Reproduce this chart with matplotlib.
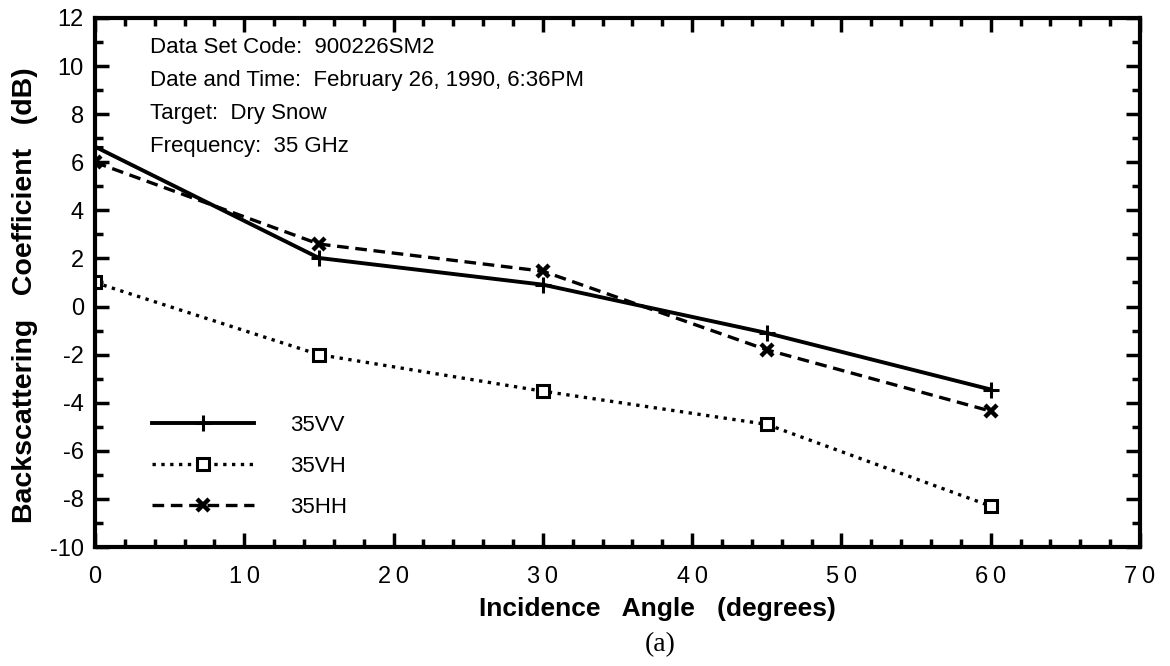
import numpy as np
import matplotlib.pyplot as plt
from matplotlib.ticker import MultipleLocator, FuncFormatter

# data
angle = [0, 15, 30, 45, 60]
vv = [6.65, 2.02, 0.91, -1.1, -3.45]
vh = [1.0, -2.0, -3.52, -4.9, -8.3]
hh = [6.0, 2.6, 1.47, -1.8, -4.35]

info = ['Data Set Code:  900226SM2',
        'Date and Time:  February 26, 1990, 6:36PM',
        'Target:  Dry Snow',
        'Frequency:  35 GHz']

plt.rcParams['font.family'] = ['Liberation Sans', 'DejaVu Sans']

fig = plt.figure(figsize=(11.7, 6.66), dpi=100)
ax = fig.add_axes([95 / 1170, 1 - 547 / 666, 1045 / 1170, 529 / 666])

ax.plot(angle, vv, '-', color='black', lw=2.8, marker='+', ms=12, mew=2.2, label='35VV')
ax.plot(angle, vh, ':', color='black', lw=2.4, marker='s', ms=9, mew=2.2,
        mfc='white', label='35VH')
ax.plot(angle, hh, '--', color='black', lw=2.4, marker='x', ms=8, mew=3.2,
        dashes=(3.5, 2), label='35HH')

ax.set_xlim(0, 70)
ax.set_ylim(-10, 12)
ax.xaxis.set_major_locator(MultipleLocator(10))
ax.xaxis.set_minor_locator(MultipleLocator(2))
ax.yaxis.set_major_locator(MultipleLocator(2))
ax.yaxis.set_minor_locator(MultipleLocator(1))
ax.xaxis.set_major_formatter(FuncFormatter(lambda v, p: '\u2009'.join(str(int(v)))))
ax.yaxis.set_major_formatter(FuncFormatter(lambda v, p: str(int(v))))

ax.tick_params(which='both', direction='in', top=True, right=True, width=2.5)
ax.tick_params(axis='y', which='major', length=10, labelsize=17, pad=8)
ax.tick_params(axis='x', which='major', length=10, labelsize=17, pad=14)
ax.tick_params(which='minor', length=6)
for s in ax.spines.values():
    s.set_linewidth(3)

ax.set_xlabel('Incidence   Angle   (degrees)', fontsize=19, fontweight='bold')
ax.xaxis.set_label_coords(0.538, -0.094)
ax.set_ylabel('Backscattering   Coefficient   (dB)', fontsize=20.5, fontweight='bold')
ax.yaxis.set_label_coords(-0.055, 0.476)

for i, t in enumerate(info):
    ax.text(0.053, 0.944 - i * 0.062, t, transform=ax.transAxes,
            fontsize=16, va='center', ha='left')

ax.legend(loc='upper left', bbox_to_anchor=(0.0545, 0.25), frameon=False,
          fontsize=16, handlelength=4.6, handletextpad=1.6, labelspacing=0.9,
          borderpad=0, borderaxespad=0)

fig.text(660 / 1170, 1 - 645 / 666, '(a)', fontsize=20, ha='center', va='center',
         family='Liberation Serif')

fig.savefig('out.png', dpi=100)
